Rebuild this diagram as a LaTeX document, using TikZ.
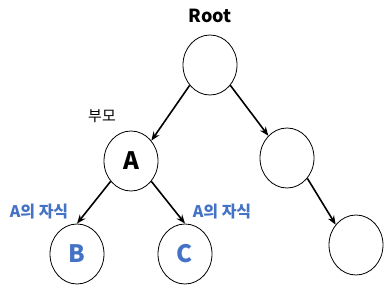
\documentclass[tikz,border=0pt]{standalone}
\usepackage{fontspec}
\setmainfont{Noto Sans CJK KR}
\usetikzlibrary{shapes.geometric, arrows.meta, positioning}
\definecolor{kidblue}{HTML}{4472C4}
\tikzset{
  tree node/.style={
    ellipse, draw=black, line width=0.8pt, fill=white,
    minimum width=54pt, minimum height=60pt,
    inner sep=0pt, font=\fontsize{24}{26}\selectfont\bfseries
  },
  tree child/.style={
    tree node, text=kidblue
  },
  tree arrow/.style={
    -{Stealth[length=9pt, width=7pt]}, line width=1.6pt, draw=black
  },
  tree label/.style={
    font=\fontsize{15}{17}\selectfont, inner sep=0pt
  },
  kid label/.style={
    tree label, font=\fontsize{16}{18}\selectfont\bfseries, text=kidblue
  }
}

\begin{document}
\begin{tikzpicture}[x=1pt, y=-1pt]
  \useasboundingbox (0,0) rectangle (390,295);
  % Level 0
  \node (root) [tree node] at (210,65) {};
  % Level 1
  \node (a) [tree node] at (131,161) {A};
  \node (r1) [tree node] at (287,158) {};
  % Level 2
  \node (b) [tree child] at (77,254) {B};
  \node (c) [tree child] at (185,254) {C};
  \node (r2) [tree node] at (356,245) {};
  % Labels
  \node (rootname) [tree label, font=\fontsize{18}{20}\selectfont\bfseries] at (210,16) {Root};
  \node (parent) [tree label] at (102,116) {부모};
  \node (kidb) [kid label] at (39,212) {A의 자식};
  \node (kidc) [kid label] at (222,212) {A의 자식};

  \draw [tree arrow] (root.-135) -- (a.45);
  \draw [tree arrow] (root.-45) -- (r1.130);
  \draw [tree arrow] (a.-135) -- (b.north);
  \draw [tree arrow] (a.-45) -- (c.north);
  \draw [tree arrow] (r1.-45) -- (r2.135);
\end{tikzpicture}
\end{document}
